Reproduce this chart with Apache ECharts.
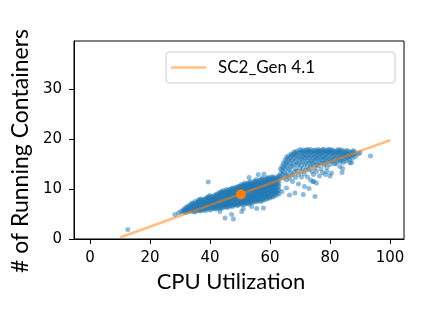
<!DOCTYPE html>
<html>
<head>
<meta charset="utf-8">
<script src="https://cdn.jsdelivr.net/npm/echarts@6/dist/echarts.min.js"></script>
<style>
html,body{margin:0;padding:0;background:#fff;}
#chart{width:424px;height:309px;}
</style>
</head>
<body>
<div id="chart"></div>
<script>
// ---- data ----
var xTicks = [0, 20, 40, 60, 80, 100];
var yTicks = [0, 10, 20, 30];
var xTitle = 'CPU Utilization';
var yTitle = '# of Running Containers';
var lineName = 'SC2_Gen 4.1';

// dense lower band: [x, [y values]]
var bandColumns = [
  [31, [5.4, 5.8]], [31.5, [5.6, 6.0]],
  [32, [5.3, 5.9, 6.3]], [32.5, [5.7, 6.1, 6.5]],
  [33, [5.5, 6.0, 6.6]], [33.5, [5.8, 6.3, 6.9]],
  [34, [5.6, 6.2, 6.8, 7.2]], [34.5, [5.5, 5.9, 6.5, 7.0]],
  [35, [5.4, 6.0, 6.5, 7.0, 7.5]], [35.5, [5.7, 6.2, 6.7, 7.2]],
  [36, [5.8, 6.3, 6.8, 7.3, 7.7]], [36.5, [5.6, 6.0, 6.5, 7.0, 7.5, 7.9]],
  [37, [5.7, 6.1, 6.6, 7.1, 7.6, 8.0]], [37.5, [5.8, 6.3, 6.8, 7.2, 7.8]],
  [38, [5.9, 6.4, 6.9, 7.4, 7.9]], [38.5, [5.7, 6.2, 6.7, 7.2, 7.6, 8.1]],
  [39, [6.0, 6.5, 7.0, 7.4, 7.9, 8.3]], [39.5, [6.2, 6.7, 7.2, 7.6, 8.1, 8.5]],
  [40, [5.8, 6.3, 6.8, 7.2, 7.7, 8.2, 8.7]], [40.5, [6.0, 6.5, 7.0, 7.4, 7.9, 8.4]],
  [41, [6.2, 6.7, 7.1, 7.6, 8.0, 8.5]], [41.5, [6.1, 6.4, 6.9, 7.3, 7.8, 8.2, 8.7]],
  [42, [6.0, 6.5, 7.0, 7.5, 7.9, 8.4, 8.9]], [42.5, [6.2, 6.7, 7.2, 7.7, 8.1, 8.6, 9.0]],
  [43, [6.3, 6.8, 7.3, 7.8, 8.3, 8.8, 9.2]], [43.5, [6.1, 6.6, 7.0, 7.5, 8.0, 8.5, 9.0, 9.4]],
  [44, [6.2, 6.6, 7.1, 7.6, 8.1, 8.6, 9.1, 9.5]], [44.5, [6.4, 6.9, 7.4, 7.8, 8.3, 8.8, 9.3, 9.7]],
  [45, [6.5, 7.0, 7.5, 7.9, 8.4, 8.9, 9.3]], [45.5, [6.3, 6.7, 7.2, 7.7, 8.2, 8.6, 9.1, 9.5, 9.9]],
  [46, [6.4, 6.9, 7.3, 7.8, 8.3, 8.8, 9.2, 9.7]], [46.5, [6.6, 7.1, 7.5, 8.0, 8.5, 9.0, 9.4, 9.9]],
  [47, [6.6, 7.1, 7.6, 8.1, 8.6, 9.0, 9.5, 10.0]], [47.5, [6.5, 6.9, 7.4, 7.9, 8.4, 8.8, 9.3, 9.8, 10.2]],
  [48, [6.8, 7.2, 7.7, 8.2, 8.7, 9.1, 9.6, 10.1]], [48.5, [6.9, 7.4, 7.9, 8.4, 8.9, 9.3, 9.8, 10.3]],
  [49, [6.7, 7.0, 7.5, 8.0, 8.5, 9.0, 9.4, 9.9, 10.4]], [49.5, [6.8, 7.2, 7.7, 8.2, 8.7, 9.2, 9.6, 10.1, 10.5]],
  [50, [7.0, 7.4, 7.9, 8.4, 8.9, 9.3, 9.8, 10.3, 10.6]], [50.5, [7.1, 7.6, 8.1, 8.6, 9.1, 9.5, 10.0, 10.5, 10.9]],
  [51, [6.9, 7.3, 7.8, 8.3, 8.7, 9.2, 9.7, 10.1, 10.7]], [51.5, [7.0, 7.5, 8.0, 8.5, 8.9, 9.4, 9.9, 10.4, 10.8, 11.2]],
  [52, [7.1, 7.6, 8.1, 8.6, 9.0, 9.5, 10.0, 10.5, 10.9]], [52.5, [7.2, 7.7, 8.3, 8.8, 9.3, 9.7, 10.2, 10.7, 11.1]],
  [53, [7.0, 7.5, 8.0, 8.4, 8.9, 9.4, 9.9, 10.3, 10.8, 11.3]], [53.5, [7.2, 7.7, 8.2, 8.6, 9.1, 9.6, 10.1, 10.5, 11.0, 11.5]],
  [54, [7.3, 7.8, 8.2, 8.7, 9.2, 9.7, 10.2, 10.6, 11.1]], [54.5, [7.5, 8.0, 8.5, 9.0, 9.5, 10.0, 10.4, 10.9, 11.4]],
  [55, [7.4, 7.9, 8.4, 8.9, 9.3, 9.8, 10.3, 10.8, 11.2, 11.6]], [55.5, [7.6, 8.1, 8.6, 9.1, 9.6, 10.1, 10.5, 11.0, 11.5, 11.9]],
  [56, [7.6, 8.0, 8.5, 9.0, 9.5, 10.0, 10.4, 10.9, 11.4]], [56.5, [7.7, 8.2, 8.7, 9.2, 9.7, 10.2, 10.7, 11.2, 11.7]],
  [57, [7.5, 8.1, 8.6, 9.1, 9.6, 10.1, 10.6, 11.0, 11.5, 11.9]], [57.5, [7.8, 8.4, 8.9, 9.4, 9.9, 10.4, 10.8, 11.3, 11.8, 12.2]],
  [58, [7.8, 8.3, 8.8, 9.3, 9.8, 10.2, 10.7, 11.2, 11.7]], [58.5, [8.1, 8.6, 9.1, 9.6, 10.1, 10.5, 11.0, 11.5, 12.0]],
  [59, [8.0, 8.5, 9.0, 9.5, 10.0, 10.5, 11.0, 11.4, 11.9, 12.2]], [59.5, [8.3, 8.8, 9.3, 9.8, 10.3, 10.8, 11.3, 11.8, 12.3]],
  [60, [8.2, 8.7, 9.2, 9.7, 10.2, 10.7, 11.1, 11.6, 12.1]], [60.5, [8.5, 9.0, 9.5, 10.0, 10.5, 10.9, 11.4, 11.9, 12.4]],
  [61, [8.4, 9.0, 9.5, 10.0, 10.5, 11.0, 11.5, 12.0, 12.4]], [61.5, [8.8, 9.3, 9.8, 10.3, 10.8, 11.3, 11.8, 12.2]],
  [62, [8.7, 9.3, 9.9, 10.5, 11.0, 11.6, 12.1]], [62.5, [9.2, 9.7, 10.3, 10.9, 11.5, 12.0, 12.5]],
  [63, [9.0, 9.8, 10.6, 11.3, 12.0, 12.6]]
];

// upper cluster: [x, [y values]]
var upperColumns = [
  [63.5, [12.4, 13.1, 14.0]], [64, [12.9, 13.8, 14.6]],
  [64.5, [12.2, 13.4, 14.3, 15.2]], [65, [13.1, 14.1, 15.0, 15.8]],
  [65.5, [11.8, 12.7, 14.5, 15.4, 16.3]], [66, [12.6, 13.6, 14.8, 15.9, 16.6]],
  [66.5, [12.1, 13.9, 15.3, 16.2]], [67, [13.2, 14.4, 15.6, 16.6, 17.0]],
  [67.5, [11.5, 12.8, 14.7, 15.9, 16.8]], [68, [13.4, 15.0, 16.2, 17.0, 17.4]],
  [68.5, [12.3, 14.0, 15.5, 16.6, 17.3]], [69, [13.6, 14.8, 15.9, 16.8, 17.6]],
  [69.5, [11.0, 12.9, 15.1, 16.3, 17.2]], [70, [14.2, 15.4, 16.4, 17.3, 17.9]],
  [70.5, [12.4, 13.5, 14.8, 15.9, 16.9, 17.6]], [71, [14.1, 15.6, 16.5, 17.2, 17.8]],
  [71.5, [10.5, 13.0, 14.9, 16.1, 16.9, 17.5]], [72, [13.8, 15.2, 16.3, 17.1, 17.8]],
  [72.5, [12.4, 14.4, 15.7, 16.6, 17.4, 17.9]], [73, [13.9, 15.2, 16.2, 17.1, 17.7]],
  [73.5, [11.8, 14.6, 15.6, 16.6, 17.4, 17.9]], [74, [13.5, 14.9, 15.9, 16.8, 17.5]],
  [74.5, [11.5, 12.9, 15.2, 16.2, 17.0, 17.7]], [75, [14.2, 15.5, 16.4, 17.2, 17.8]],
  [75.5, [11.2, 13.5, 14.9, 16.0, 16.8, 17.5]], [76, [14.7, 15.9, 16.8, 17.5, 17.9]],
  [76.5, [12.6, 15.3, 16.3, 17.1, 17.7]], [77, [14.0, 15.2, 16.2, 17.0, 17.6]],
  [77.5, [13.3, 15.7, 16.6, 17.3, 17.9]], [78, [14.8, 15.8, 16.6, 17.4, 17.9]],
  [78.5, [12.9, 15.2, 16.2, 17.0, 17.6]], [79, [14.3, 15.4, 16.3, 17.1, 17.7]],
  [79.5, [15.8, 16.7, 17.4, 17.9]], [80, [14.9, 15.9, 16.9, 17.5, 17.9]],
  [80.5, [13.2, 15.5, 16.4, 17.2, 17.7]], [81, [15.6, 16.5, 17.2, 17.8]],
  [81.5, [15.0, 16.0, 16.9, 17.5]], [82, [15.1, 16.1, 16.9, 17.5]],
  [82.5, [15.6, 16.5, 17.3, 17.8]], [83, [15.9, 16.7, 17.4, 17.9]],
  [83.5, [15.5, 16.2, 17.0, 17.6]], [84, [15.7, 16.6, 17.2, 17.8]],
  [84.5, [15.3, 16.3, 16.9, 17.5]], [85, [16.0, 16.8, 17.4]],
  [85.5, [15.6, 16.4, 17.1, 17.7]], [86, [16.3, 17.0, 17.6]],
  [86.5, [15.9, 16.6, 17.3]], [87, [16.6, 17.3]],
  [87.5, [16.2, 17.0, 17.6]], [88, [16.9, 17.6]],
  [88.5, [16.5, 17.2]], [89.5, [17.0]]
];

// scattered points outside the dense regions
var outlierPoints = [
  [12.6, 1.9], [28.3, 4.9], [30.3, 5.5], [29.5, 5.2], [39.4, 11.4],
  [45.0, 4.2], [47.8, 4.0], [47.2, 4.9], [43.3, 5.5], [50.6, 5.5],
  [51.1, 6.1], [53.9, 6.5], [55.6, 6.1], [57.8, 6.2], [53.0, 12.3],
  [56.1, 12.9], [58.0, 13.0], [64.0, 9.5], [65.5, 10.2], [66.5, 8.8],
  [68.3, 9.2], [71.1, 8.9], [75.0, 8.5], [73.0, 10.1], [74.4, 11.5],
  [78.9, 13.5], [84.2, 14.1], [83.3, 14.5], [86.7, 15.2], [87.2, 15.3],
  [90.0, 17.3], [93.5, 16.6], [84.0, 13.3], [80.0, 12.6]
];

var fitLine = [[10, 0.3], [100, 19.75]];
var meanPoint = [[50.3, 8.9]];

// ---- build ----
function flatten(cols) {
  var out = [];
  cols.forEach(function (c) { c[1].forEach(function (y) { out.push([c[0], y]); }); });
  return out;
}
var scatterData = flatten(bandColumns).concat(flatten(upperColumns)).concat(outlierPoints);

var chart = echarts.init(document.getElementById('chart'), null, {renderer: 'canvas'});
var font = 'DejaVu Sans';
var titleFont = 'Lato';
chart.setOption({
  animation: false,
  backgroundColor: '#fff',
  grid: {left: 74, right: 20, top: 41, bottom: 70, show: true, borderColor: '#000', borderWidth: 1, backgroundColor: 'transparent'},
  legend: {
    data: [{name: lineName, icon: 'rect', itemStyle: {color: '#ffbf86', opacity: 1}}],
    left: 166, top: 52,
    backgroundColor: '#fff', borderColor: '#cccccc', borderWidth: 1, borderRadius: 3,
    padding: [7, 80, 7, 5],
    itemWidth: 35, itemHeight: 2.5, itemGap: 0,
    textStyle: {fontFamily: titleFont, fontSize: 17, color: '#000', padding: [0, 0, 0, 7]}
  },
  xAxis: {
    type: 'value', min: -5.33, max: 104.67,
    axisLine: {show: true, onZero: false, lineStyle: {color: '#000', width: 1}},
    axisTick: {show: true, length: 5, customValues: xTicks, lineStyle: {color: '#000', width: 1}},
    axisLabel: {customValues: xTicks, fontFamily: font, fontSize: 15, color: '#000', margin: 12},
    splitLine: {show: false},
    name: xTitle, nameLocation: 'middle', nameGap: 30,
    nameTextStyle: {fontFamily: titleFont, fontSize: 22, color: '#000', padding: [0, 16, 0, 0]}
  },
  yAxis: {
    type: 'value', min: 0, max: 39.6,
    axisLine: {show: true, onZero: false, lineStyle: {color: '#000', width: 1}},
    axisTick: {show: true, length: 5, customValues: yTicks, lineStyle: {color: '#000', width: 1}},
    axisLabel: {customValues: yTicks, fontFamily: font, fontSize: 15, color: '#000', margin: 12},
    splitLine: {show: false},
    name: yTitle, nameLocation: 'middle', nameGap: 39,
    nameTextStyle: {fontFamily: titleFont, fontSize: 23, color: '#000', padding: [0, 22, 0, 0]}
  },
  series: [
    {
      type: 'scatter', name: 'points', data: scatterData, symbolSize: 5,
      itemStyle: {color: '#1f77b4', opacity: 0.5}, z: 2, silent: true
    },
    {
      type: 'line', name: lineName, data: fitLine, symbol: 'none', showSymbol: false,
      lineStyle: {color: '#ff7f0e', width: 2.5, opacity: 0.5}, z: 3
    },
    {
      type: 'scatter', name: 'mean', data: meanPoint, symbolSize: 10,
      itemStyle: {color: '#ff7f0e', opacity: 1}, z: 4
    }
  ]
});
</script>
</body>
</html>
